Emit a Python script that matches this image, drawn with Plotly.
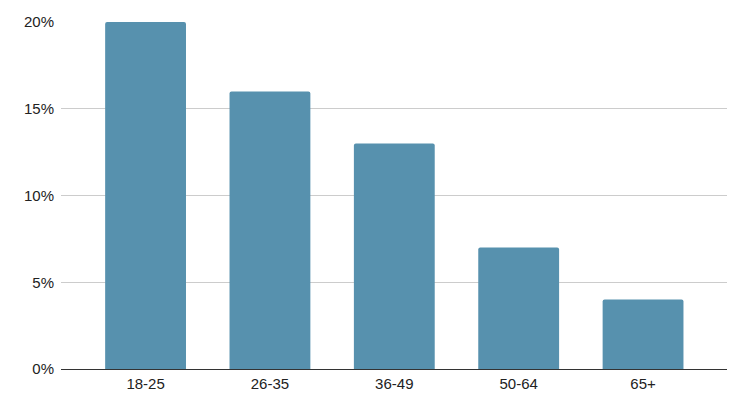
import plotly.graph_objects as go

categories = ["18-25", "26-35", "36-49", "50-64", "65+"]
values = [20, 16, 13, 7, 4]
y_ticks = [0, 5, 10, 15, 20]
y_tick_labels = ["0%", "5%", "10%", "15%", "20%"]

fig = go.Figure(go.Bar(
    x=categories, y=values,
    marker=dict(color="#5791ae", cornerradius=2, line=dict(width=0)),
    hoverinfo="x+y",
))
fig.update_layout(
    width=742, height=407,
    margin=dict(l=53, r=23, t=14, b=46, autoexpand=False),
    paper_bgcolor="white", plot_bgcolor="white",
    bargap=0.35,
    showlegend=False,
    font=dict(family="Liberation Sans, Arial, sans-serif", size=15, color="#222222"),
)
fig.update_xaxes(
    range=[-0.68, 4.675], showgrid=False, ticks="", showline=False,
    ticklabelstandoff=4, automargin=False,
    tickfont=dict(size=15, color="#222222"),
)
fig.update_yaxes(
    range=[0, 20], tickvals=y_ticks, ticktext=y_tick_labels,
    showgrid=True, gridcolor="#cccccc", gridwidth=1,
    zeroline=True, zerolinecolor="#333333", zerolinewidth=1,
    showline=False, ticks="", ticklabelstandoff=6, automargin=False,
    tickfont=dict(size=15, color="#222222"),
)
fig.write_html("out.html")
